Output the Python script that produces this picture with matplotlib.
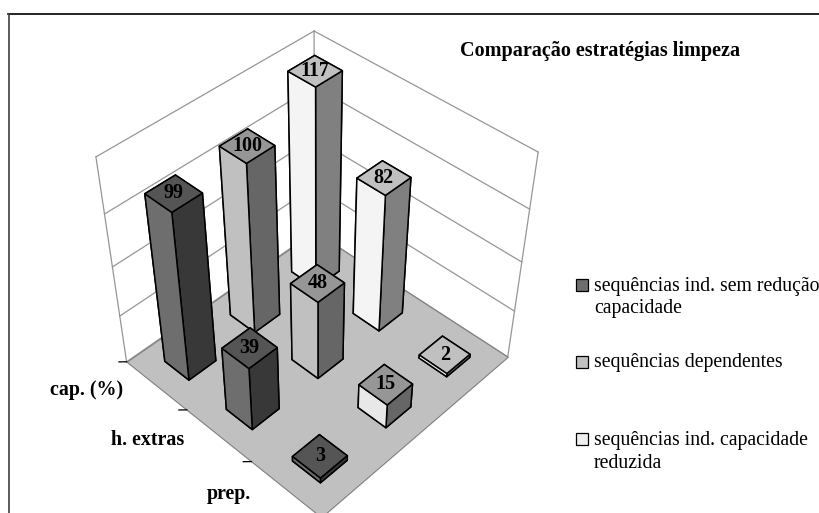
import matplotlib
matplotlib.use("Agg")
import matplotlib.pyplot as plt
from matplotlib.lines import Line2D
from matplotlib.patches import Rectangle
from mpl_toolkits.mplot3d import proj3d
from mpl_toolkits.mplot3d.art3d import Poly3DCollection

plt.rcParams['font.family'] = ['Liberation Serif', 'DejaVu Serif']

categories = ["cap. (%)", "h. extras", "prep."]
series_names = ["sequências ind. sem redução\ncapacidade",
                "sequências dependentes",
                "sequências ind. capacidade\nreduzida"]
# one list per serie, same order as categories
sem_reducao = [99, 39, 3]
dependentes = [100, 48, 15]
cap_reduzida = [117, 82, 2]
values = [sem_reducao, dependentes, cap_reduzida]

z_ticks = [0, 29.5, 59, 88.5, 118]
title = "Comparação estratégias limpeza"

# left / top / right faces for each serie
left_faces = ["#6e6e6e", "#c0c0c0", "#f4f4f4"]
top_faces = ["#555555", "#969696", "#c0c0c0"]
right_faces = ["#383838", "#666666", "#808080"]
legend_colors = ["#6e6e6e", "#c0c0c0", "#f0f0f0"]

W, H = 820, 513
fig = plt.figure(figsize=(W / 100, H / 100), dpi=100)


def fx(x):
    return x / W


def fy(y):
    return 1 - y / H


# 3d axes, square in pixels
size = 482
cx, cy = 311, 271
ax = fig.add_axes([fx(cx - size / 2), fy(cy + size / 2), size / W, size / H],
                  projection='3d')
ax.set_proj_type('persp', focal_length=0.5)
ax.view_init(elev=43.5, azim=-46)
ax.set_box_aspect((1, 1, 0.97))
ax.set_xlim(0, 3)
ax.set_ylim(0, 3)
ax.set_zlim(0, z_ticks[-1])
ax.set_axis_off()
ax.patch.set_alpha(0)
ax.computed_zorder = False

nx, ny = len(categories), len(values)
proj = ax.get_proj()


def label3d(x, y, z, s, **kw):
    # 2d text placed at the projected 3d position
    x2, y2, _ = proj3d.proj_transform(x, y, z, proj)
    return ax.text2D(x2, y2, s, transform=ax.transData, **kw)


# floor
floor = Poly3DCollection([[(0, 0, 0), (nx, 0, 0), (nx, ny, 0), (0, ny, 0)]],
                         facecolor="#c0c0c0", edgecolor="#808080", linewidth=0.8,
                         zorder=1)
floor.set_clip_on(False)
ax.add_collection3d(floor)

# walls: grid lines and outline
wall = "#969696"
for z in z_ticks:
    ax.plot([0, 0], [0, ny], [z, z], color=wall, lw=0.9, zorder=0.5, clip_on=False)
    ax.plot([0, nx], [ny, ny], [z, z], color=wall, lw=0.9, zorder=0.5, clip_on=False)
for px_, py_ in [(0, 0), (0, ny), (nx, ny)]:
    ax.plot([px_, px_], [py_, py_], [0, z_ticks[-1]], color=wall, lw=0.9, zorder=0.5,
            clip_on=False)

# ticks and category labels on the front left edge
for i in range(nx):
    ax.plot([i, i - 0.06], [0, -0.06], [0, 0], color="black", lw=0.9, zorder=2,
            clip_on=False)
for i, name in enumerate(categories):
    label3d(i + 0.5 - 0.21, -0.29, 0, name, ha='right', va='center',
            fontsize=14.4, fontweight='bold', zorder=2)

# bars from back to front
cells = [(i, j) for i in range(nx) for j in range(ny)]
cells.sort(key=lambda c: c[0] - c[1])
bar_w = 0.40
for n, (i, j) in enumerate(cells):
    v = values[j][i]
    left = left_faces[j]
    if v == 15:
        left = "#e8e8e8"
    colors = ["#000000", top_faces[j], left, "#000000", "#000000", right_faces[j]]
    zo = 3 + n
    ax.bar3d(i + 0.5 - bar_w / 2, j + 0.5 - bar_w / 2, 0, bar_w, bar_w, v,
             color=colors, edgecolor="black", linewidth=1.1, shade=False, zorder=zo)
    label3d(i + 0.5, j + 0.5, v, str(v), ha='center', va='center',
            fontsize=14.5, fontweight='bold', zorder=zo + 0.5)

# chart frame
fig.add_artist(Line2D([fx(8), 1], [fy(14), fy(14)], color="black", lw=1.2))
fig.add_artist(Line2D([fx(9), fx(9)], [fy(14), 0], color="#404040", lw=1.2))

fig.text(fx(460), fy(51), title, fontsize=14.5, fontweight='bold', ha='left',
         va='center')

# legend
legend_y = [284.5, 361.5, 439]
for y, name, c in zip(legend_y, series_names, legend_colors):
    fig.add_artist(Rectangle((fx(576), fy(y + 6)), 12 / W, 12 / H, facecolor=c,
                             edgecolor="black", lw=0.9,
                             transform=fig.transFigure))
    fig.text(fx(594), fy(y - 8), name, fontsize=14.2, ha='left', va='top',
             linespacing=1.25)

fig.savefig("out.png", dpi=100)
